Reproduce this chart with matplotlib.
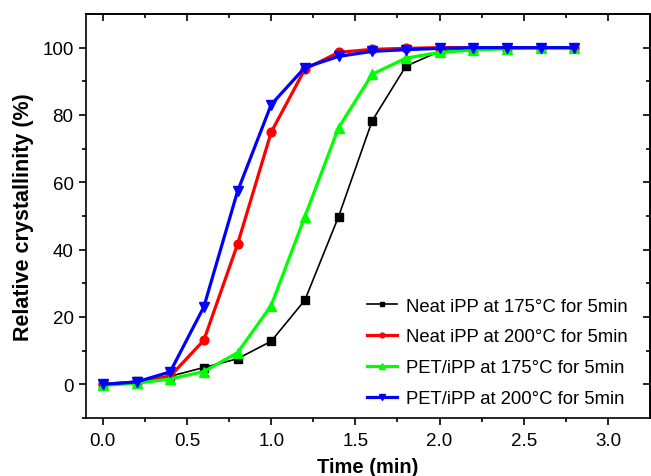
import matplotlib
matplotlib.use("Agg")
import matplotlib.pyplot as plt
from matplotlib.ticker import FixedLocator

plt.rcParams['font.family'] = ['Liberation Sans', 'DejaVu Sans']

time = [0.0, 0.2, 0.4, 0.6, 0.8, 1.0, 1.2, 1.4, 1.6, 1.8, 2.0, 2.2, 2.4, 2.6, 2.8]
neat_175 = [0, 0.9, 2.4, 5.0, 7.6, 12.8, 25.0, 49.8, 78.3, 94.5, 98.9, 99.7, 100, 100, 100]
neat_200 = [0, 0.7, 2.4, 13.1, 41.6, 74.9, 93.6, 98.6, 99.5, 99.8, 100, 100, 100, 100, 100]
pet_175 = [-0.3, 0.3, 1.6, 3.8, 9.4, 23.4, 49.8, 76.2, 92.1, 96.9, 98.6, 99.3, 99.7, 100, 100]
pet_200 = [0, 0.7, 3.7, 23.0, 57.3, 83.1, 94.1, 97.4, 98.9, 99.4, 99.8, 100, 100, 100, 100]

labels = ["Neat iPP at 175\u00b0C for 5min", "Neat iPP at 200\u00b0C for 5min",
          "PET/iPP at 175\u00b0C for 5min", "PET/iPP at 200\u00b0C for 5min"]
xticks = [0, 0.5, 1.0, 1.5, 2.0, 2.5, 3.0]
xticklabels = ["0.0", "0.5", "1.0", "1.5", "2.0", "2.5", "3.0"]
yticks = [0, 20, 40, 60, 80, 100]

fig = plt.figure(figsize=(6.51, 4.77), dpi=100)
ax = fig.add_axes([86/651, 1-419/477, (650-86)/651, (419-15)/477])

ax.plot(time, neat_175, color='black', lw=1.2, marker='s', ms=5.5, label=labels[0])
ax.plot(time, neat_200, color='#ff0000', lw=2.3, marker='o', ms=6.3, label=labels[1])
ax.plot(time, pet_175, color='#00ff00', lw=2.3, marker='^', ms=7, label=labels[2])
ax.plot(time, pet_200, color='#0000ff', lw=2.3, marker='v', ms=7, label=labels[3])

ax.set_xlim(-0.1, 3.25)
ax.set_ylim(-10, 110)
ax.set_xticks(xticks)
ax.set_xticklabels(xticklabels)
ax.xaxis.set_minor_locator(FixedLocator([0.25, 0.75, 1.25, 1.75, 2.25, 2.75]))
ax.set_yticks(yticks)
ax.yaxis.set_minor_locator(FixedLocator([-10, 10, 30, 50, 70, 90]))

ax.tick_params(which='both', direction='out', labelsize=13.5, width=1.2)
ax.tick_params(axis='x', which='major', length=5, pad=5)
ax.tick_params(axis='y', which='major', length=5, pad=4)
ax.tick_params(which='minor', length=3)

ax_top = ax.secondary_xaxis('top')
ax_top.set_xticks(xticks)
ax_top.xaxis.set_minor_locator(FixedLocator([0.25, 0.75, 1.25, 1.75, 2.25, 2.75]))
ax_top.tick_params(which='both', direction='in', labeltop=False, width=1.2)
ax_top.tick_params(which='major', length=5)
ax_top.tick_params(which='minor', length=3)
ax_right = ax.secondary_yaxis('right')
ax_right.set_yticks(yticks)
ax_right.yaxis.set_minor_locator(FixedLocator([10, 30, 50, 70, 90]))
ax_right.tick_params(which='both', direction='in', labelright=False, width=1.2)
ax_right.tick_params(which='major', length=5)
ax_right.tick_params(which='minor', length=3)

for a in (ax, ax_top, ax_right):
    for s in a.spines.values():
        s.set_linewidth(1.2)

ax.set_xlabel("Time (min)", fontsize=14.5, fontweight='bold', labelpad=6)
ax.set_ylabel("Relative crystallinity (%)", fontsize=15.5, fontweight='bold', labelpad=6)

leg = ax.legend(loc='lower right', bbox_to_anchor=(0.983, -0.005), frameon=False, fontsize=13.3,
                handlelength=1.6, markerscale=0.55, labelspacing=0.75, handletextpad=0.5,
                borderaxespad=0.3)

fig.savefig("out.png", dpi=100)
